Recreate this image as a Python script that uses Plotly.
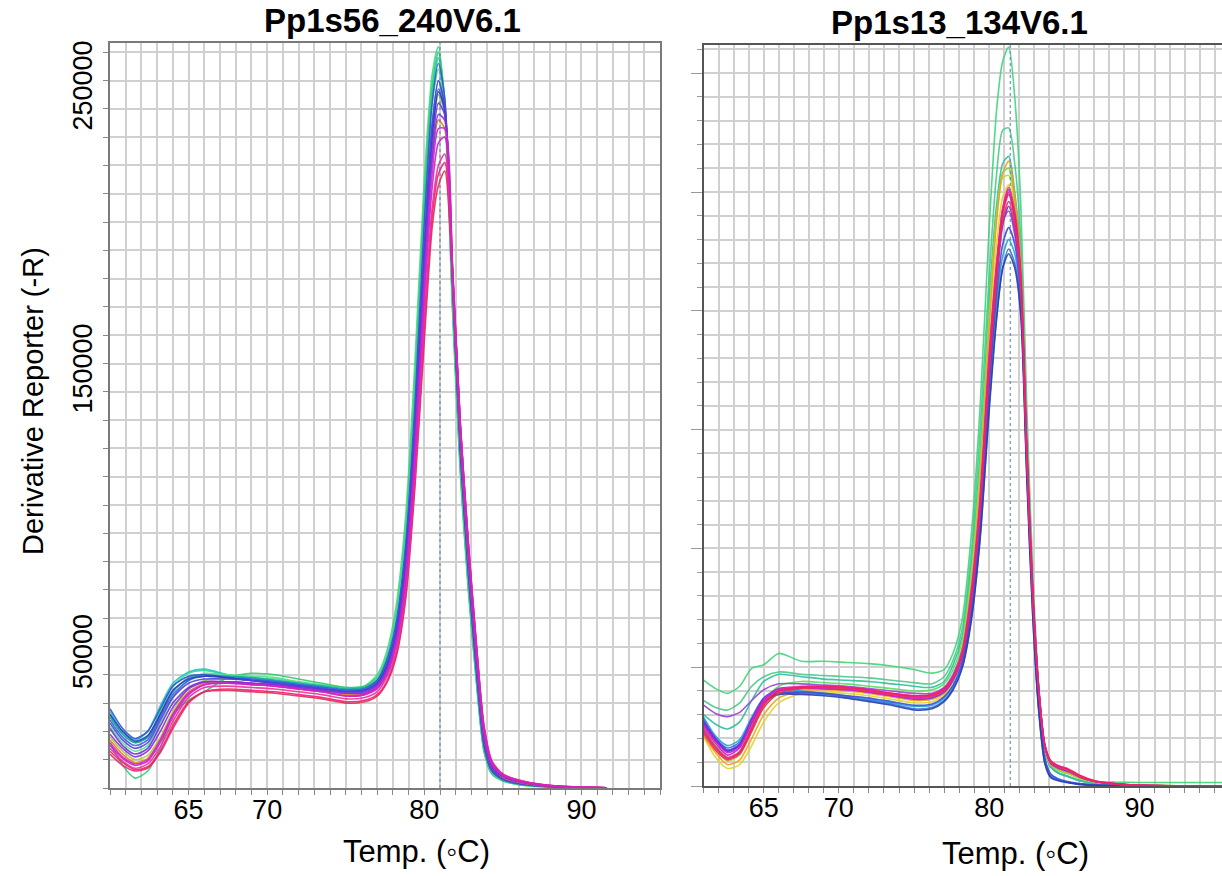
import plotly.graph_objects as go

# melt temperatures (deg C) sampled for each panel
left_temp = [60, 60.8, 61.6, 62.4, 63.2, 64, 65, 66, 67.5, 69, 70.5, 72, 73.5, 75, 76.2, 77, 77.6, 78.2,
             78.8, 79.4, 80, 80.5, 80.9, 81.3, 81.8, 82.3, 82.8, 83.3, 83.8, 84.3, 85, 86, 87.5, 89.5, 91.6]
right_temp = [61, 61.8, 62.6, 63.4, 64.2, 65, 66, 67.5, 69, 70.5, 72, 73.5, 75, 76.2, 77, 77.6, 78.2, 78.8,
              79.4, 80, 80.5, 80.9, 81.3, 81.7, 82.1, 82.5, 82.9, 83.3, 83.7, 84.1, 84.6, 85.3, 86, 87,
              88.5, 90, 92.5, 95.5]

# derivative reporter (-R), thousands, one list per well
left_01 = [26, 19, 16, 18, 27, 36, 40.5, 41.5, 40, 39, 38.5, 37.5, 36.5, 35.5, 36, 40, 48, 64, 95, 150, 215, 252, 262, 240, 168, 110, 70, 38, 13, 5, 2.5, 1.2, 0.5, 0.2, 0.1]
left_02 = [27, 20, 17, 20, 29, 37, 41, 42, 40, 38.5, 38, 37, 36, 35, 35.5, 38.5, 46, 60, 88, 140, 205, 245, 258, 242, 172, 113, 72, 40, 14, 5.5, 2.8, 1.4, 0.6, 0.2, 0.1]
left_03 = [16, 8, 3.5, 6, 14, 26, 31, 34, 39, 40.5, 40, 38.5, 37, 35.5, 36, 39, 46, 61, 90, 142, 208, 248, 260, 243, 170, 112, 71, 39, 13, 5, 2.5, 1.2, 0.5, 0.2, 0.1]
left_04 = [22, 16, 13, 15, 23, 32, 38, 40.5, 40, 39.5, 39, 37.5, 36, 35, 35.5, 38.5, 45.5, 60, 88, 138, 202, 242, 254, 241, 172, 113, 72, 40, 14, 5.5, 2.8, 1.4, 0.6, 0.2, 0.1]
left_05 = [25, 19, 16, 18, 26, 34, 39, 40, 39.5, 39, 38, 37, 36, 35, 35.5, 38, 44, 57, 83, 130, 192, 235, 250, 240, 176, 116, 75, 42, 15, 6, 3, 1.5, 0.6, 0.2, 0.1]
left_06 = [18, 13, 10, 11.5, 18, 27, 35, 38, 38.5, 38, 37, 36, 35, 34, 34.5, 36.5, 42, 54, 78, 125, 186, 230, 245, 238, 178, 120, 78, 44, 16, 6.5, 3.2, 1.7, 0.7, 0.2, 0.1]
left_07 = [28, 21, 17.5, 20, 28, 36, 39.5, 40, 39, 38, 37.5, 36.5, 35.5, 34.5, 35, 38, 45, 58, 85, 135, 200, 242, 256, 244, 178, 118, 76, 42, 15, 6, 3, 1.5, 0.6, 0.2, 0.1]
left_08 = [24, 18, 15, 17, 25, 33, 38, 39.5, 39, 38.5, 37.5, 36.5, 35.5, 34.5, 35, 37.5, 43, 56, 82, 128, 190, 232, 247, 239, 178, 120, 78, 44, 16, 6.5, 3.2, 1.8, 0.7, 0.2, 0.1]
left_09 = [26, 20, 16.5, 18.5, 26, 34.5, 38.5, 39.5, 39, 38, 37, 36, 35, 34, 34.5, 37, 43, 55, 80, 126, 188, 230, 246, 240, 180, 121, 79, 45, 17, 7, 3.5, 2, 0.8, 0.3, 0.1]
left_10 = [23, 17, 14, 16, 24, 32, 37, 38.5, 38.5, 38, 37, 36, 35, 34, 34.5, 37, 42.5, 55, 80, 127, 190, 234, 250, 241, 179, 120, 78, 44, 16, 6.5, 3.2, 1.7, 0.7, 0.2, 0.1]
left_11 = [17, 12, 9, 10.5, 17, 26, 34, 37, 37.5, 37, 36, 35, 34, 33, 33.5, 35.5, 41, 52, 75, 120, 180, 222, 236, 233, 180, 123, 81, 47, 18, 7.5, 3.8, 2, 0.8, 0.3, 0.1]
left_12 = [21, 15, 12, 14, 22, 30, 35.5, 37.5, 37.5, 37, 36.5, 35.5, 34.5, 33.5, 34, 36.5, 42, 54, 78, 124, 185, 226, 242, 238, 182, 124, 82, 47, 18, 7.5, 4, 2.2, 0.9, 0.3, 0.1]
left_13 = [19, 14, 11, 13, 20, 28.5, 35, 37.5, 37.5, 37, 36.5, 35.5, 34.5, 33.5, 33.5, 36, 41, 52, 75, 120, 180, 222, 238, 236, 183, 126, 84, 49, 19, 8, 4.2, 2.4, 1, 0.3, 0.1]
left_14 = [13, 9, 6.5, 7.5, 13, 22, 30.5, 34, 34.5, 34, 33.5, 32.5, 31.5, 30, 30.5, 32.5, 37, 46, 66, 106, 158, 198, 213, 218, 180, 127, 86, 51, 21, 9, 4.5, 2.5, 1, 0.3, 0.1]
left_15 = [12, 8, 6, 7, 12.5, 21, 30, 34, 35, 34.5, 34, 33, 32, 30.5, 31, 33, 37.5, 47, 67, 108, 162, 202, 217, 221, 181, 128, 87, 52, 22, 9.5, 5, 2.8, 1.2, 0.4, 0.1]
left_16 = [14, 9.5, 7, 8.5, 14.5, 23.5, 32, 35.5, 36, 35.5, 35, 34, 33, 31.5, 32, 34, 39, 48, 69, 110, 165, 205, 220, 224, 182, 128, 87, 52, 22, 9.5, 4.8, 2.8, 1.2, 0.4, 0.1]
left_17 = [16, 11, 8.5, 10, 17, 26, 33.5, 36.5, 37, 36.5, 36, 35, 34, 32.5, 33, 35.5, 40.5, 51, 73, 117, 176, 217, 233, 233, 184, 127, 85, 50, 20, 8.5, 4.5, 2.6, 1.1, 0.3, 0.1]
left_18 = [15, 10.5, 8, 9.5, 16, 25, 33, 36.5, 37, 36.5, 36, 35, 34, 32.5, 33, 35, 40, 50, 72, 115, 172, 212, 228, 230, 184, 128, 86, 51, 21, 9, 4.5, 2.6, 1.1, 0.3, 0.1]

right_01 = [44.6, 41, 39, 42, 49.5, 51, 55.8, 52.5, 52.5, 52, 51.5, 50.5, 49, 47.5, 49, 56, 70, 105, 160, 235, 285, 305, 311, 290, 245, 160, 90, 42, 15, 8, 5.5, 4, 2.5, 1.8, 1.6, 1.5, 1.5, 1.5]
right_02 = [36, 33, 32, 35, 42, 46, 48, 47, 46.5, 46, 45.5, 44.5, 43.5, 43, 46, 53, 66, 98, 150, 215, 258, 276, 277, 262, 230, 150, 85, 40, 15, 8, 5.5, 3.8, 2.2, 1, 0.4, 0.2, 0.1, 0]
right_03 = [30, 26, 24, 27, 36, 44, 47, 46, 45, 44.5, 44, 43, 42, 41.5, 44, 51, 63, 93, 140, 205, 245, 262, 265, 250, 222, 145, 82, 40, 15, 8, 5.5, 3.8, 2.2, 1, 0.4, 0.2, 0.1, 0]
right_04 = [24, 17, 12, 14.5, 25, 35, 42, 44, 43.5, 43, 42, 41, 40, 40.5, 43, 49, 61, 90, 136, 200, 242, 258, 260, 246, 218, 144, 82, 40, 16, 9, 6.5, 5, 3.2, 1.6, 0.6, 0.2, 0.1, 0]
right_05 = [23, 15.5, 10.5, 13, 23, 33, 39, 41, 41, 40.5, 39.5, 38, 36.5, 37, 40, 46.5, 59, 87, 132, 196, 240, 256, 257, 244, 216, 143, 81, 40, 16, 9, 7, 5.5, 3.5, 1.8, 0.7, 0.3, 0.1, 0]
right_06 = [20.8, 12, 7.4, 9, 17, 27, 35, 39, 39.5, 39, 38, 36.5, 35, 35.5, 38, 44, 55, 80, 122, 183, 228, 248, 253, 240, 214, 142, 81, 40, 16, 9, 7, 5.5, 3.5, 1.8, 0.7, 0.3, 0.1, 0]
right_07 = [21, 14, 9, 11, 20, 30, 37, 40, 40.5, 40, 39, 37.5, 36, 36.5, 39, 45, 57, 84, 128, 192, 238, 258, 263, 248, 220, 145, 82, 40, 16, 9, 7, 5.5, 3.5, 1.8, 0.7, 0.3, 0.1, 0]
right_08 = [29, 21, 17, 19.5, 29, 37, 40, 40, 39, 38, 36.5, 35, 33.5, 34, 37, 42, 51, 72, 108, 165, 203, 223, 230, 224, 203, 134, 74, 33, 11, 4.5, 2.8, 1.6, 0.8, 0.4, 0.2, 0.1, 0, 0]
right_09 = [28, 20, 16, 18.5, 28, 36, 39, 39, 38.5, 37.5, 36, 34.5, 32.5, 33, 36, 41, 50, 70, 105, 160, 198, 218, 226, 220, 200, 132, 72, 32, 10, 4, 2.5, 1.5, 0.8, 0.4, 0.2, 0.1, 0, 0]
right_10 = [26, 19, 14.5, 17, 26.5, 35, 39, 39.5, 39, 38, 37, 35.5, 34, 34.5, 37.5, 42.5, 52, 73, 110, 168, 207, 228, 235, 228, 206, 136, 76, 35, 12, 5, 3, 1.8, 1, 0.5, 0.2, 0.1, 0, 0]
right_11 = [27, 19.5, 15, 17.5, 27, 35.5, 38.5, 38.5, 38, 37, 35.5, 34, 32, 32.5, 35.5, 40.5, 49.5, 69, 104, 158, 197, 218, 224, 218, 198, 130, 71, 31, 9.5, 3.5, 2.2, 1.3, 0.7, 0.3, 0.1, 0, 0, 0]
right_12 = [34, 30.5, 29.2, 31, 36, 40.5, 43, 43, 42.5, 42, 41, 40, 39, 39, 41.5, 47, 57, 82, 122, 182, 220, 238, 242, 232, 208, 140, 80, 40, 17, 10, 8, 6.5, 4, 2, 0.8, 0.3, 0.1, 0]
right_13 = [27, 20, 15, 17.5, 28, 37, 41, 41.5, 41, 40.5, 39.5, 38, 36.5, 37, 39.5, 44.5, 54, 76, 114, 172, 212, 236, 244, 234, 210, 139, 79, 39, 16.5, 9.5, 7.5, 6, 3.8, 1.9, 0.8, 0.3, 0.1, 0]
right_14 = [26, 19, 14, 16.5, 27, 36, 40.5, 41.5, 41.5, 41, 40, 38.5, 37.5, 38, 40.5, 45.5, 55, 79, 119, 179, 219, 243, 251, 240, 214, 142, 81, 40.5, 17, 10, 8, 6.5, 4, 2, 0.8, 0.3, 0.1, 0]
right_15 = [25, 18, 13, 16, 27, 36, 40, 41, 41, 40.5, 39.5, 38, 37, 37.5, 40, 45, 55, 78, 118, 178, 218, 242, 250, 238, 212, 140, 80, 40, 17, 10, 8, 6.5, 4, 2, 0.8, 0.3, 0.1, 0]
right_16 = [22, 15, 11, 13.5, 23, 33, 39, 41, 41.5, 41, 40, 38.5, 37.5, 38, 40.5, 45.5, 55, 78, 117, 175, 214, 238, 246, 236, 211, 140, 80, 40, 17, 10, 8, 6.5, 4, 2, 0.8, 0.3, 0.1, 0]
right_17 = [24, 16.5, 12, 14.5, 25, 35, 40.5, 42, 42, 41.5, 40.5, 39, 38, 38.5, 41, 46, 56, 80, 120, 180, 220, 243, 252, 242, 216, 143, 82, 41, 17.5, 10.5, 8.5, 7, 4.5, 2.2, 0.9, 0.3, 0.1, 0]
right_18 = [23, 16, 11.5, 14, 24, 34, 40, 41.5, 42, 41.5, 40.5, 39, 38, 38.5, 41, 46, 55.5, 79, 118, 177, 217, 241, 249, 240, 215, 143, 82, 41, 17.5, 10.5, 8.5, 7, 4.5, 2.2, 0.9, 0.3, 0.1, 0]

left_series = [left_01, left_02, left_03, left_04, left_05, left_06, left_07, left_08, left_09,
               left_10, left_11, left_12, left_13, left_14, left_15, left_16, left_17, left_18]
right_series = [right_01, right_02, right_03, right_04, right_05, right_06, right_07, right_08, right_09,
                right_10, right_11, right_12, right_13, right_14, right_15, right_16, right_17, right_18]

left_colors = ['#3ddc84', '#22c4d0', '#2ecc71', '#55e08a', '#1aa6a0', '#a4cf2e', '#2f55d4', '#4060e8', '#2a3fb8',
               '#5540e0', '#f07a22', '#6a35d8', '#8b2fe0', '#e3304a', '#f0207c', '#e8349a', '#c42ad8', '#d61fc4']
right_colors = ['#3fd67a', '#4cc98a', '#2fbf9f', '#56e05a', '#b5d93a', '#e6d22a', '#f2a020', '#21a8d8', '#2f6fe0',
                '#3b4fd8', '#2d3fa8', '#9b45d6', '#7b2fe0', '#b62bd6', '#d81fc9', '#e43a4e', '#ee2d8c', '#f01d6e']

titles = ['Pp1s56_240V6.1', 'Pp1s13_134V6.1']
x_labels = [65, 70, 80, 90]
y_labels = [50000, 150000, 250000]
tm_left = 81.0
tm_right = 81.4

font = 'Liberation Sans, Arial, sans-serif'
grid = '#d0d0d0'

fig = go.Figure()
for vals, col in zip(left_series, left_colors):
    fig.add_trace(go.Scatter(x=left_temp, y=[v * 1000 for v in vals], mode='lines',
                             line=dict(color=col, width=1.6, shape='spline', smoothing=0.7),
                             opacity=0.9, xaxis='x', yaxis='y'))
for vals, col in zip(right_series, right_colors):
    fig.add_trace(go.Scatter(x=right_temp, y=[v * 1000 for v in vals], mode='lines',
                             line=dict(color=col, width=1.6, shape='spline', smoothing=0.7),
                             opacity=0.9, xaxis='x2', yaxis='y2'))

lx_ticks = list(range(60, 96))
rx_ticks = list(range(61, 96))
ly_ticks = list(range(0, 260001, 10000))

fig.update_layout(
    width=1222, height=876,
    margin=dict(l=0, r=0, t=0, b=0),
    paper_bgcolor='white', plot_bgcolor='white',
    showlegend=False,
    font=dict(family=font, color='black', size=27),
    xaxis=dict(domain=[110 / 1222, 660 / 1222], range=[60, 95], anchor='y', automargin=False,
               tickmode='array', tickvals=lx_ticks,
               ticktext=[str(t) if t in x_labels else '' for t in lx_ticks], ticklabelstandoff=-8,
               ticks='outside', ticklen=5, tickcolor='#888', showgrid=True, gridcolor=grid, gridwidth=1.5,
               showline=True, linecolor='#7a7a7a', linewidth=2, mirror=True, zeroline=False),
    yaxis=dict(domain=[1 - 788 / 876, 1 - 43 / 876], range=[0, 263250], anchor='x', automargin=False,
               tickmode='array', tickvals=ly_ticks,
               ticktext=[str(t) if t in y_labels else '' for t in ly_ticks], tickangle=-90,
               ticklabelshift=9,
               ticks='outside', ticklen=5, tickcolor='#888', showgrid=True, gridcolor=grid, gridwidth=1.5,
               showline=True, linecolor='#7a7a7a', linewidth=2, mirror=True, zeroline=False),
    xaxis2=dict(domain=[703.6 / 1222, 1.0], range=[61, 95.49], anchor='y2', automargin=False,
                tickmode='array', tickvals=rx_ticks,
                ticktext=[str(t) if t in x_labels else '' for t in rx_ticks], ticklabelstandoff=-8,
                ticks='outside', ticklen=5, tickcolor='#888', showgrid=True, gridcolor=grid, gridwidth=1.5,
                showline=True, linecolor='#555', linewidth=2, mirror=True, zeroline=False),
    yaxis2=dict(domain=[1 - 786 / 876, 1 - 45 / 876], range=[0, 311870], anchor='x2', automargin=False,
                tickmode='linear', tick0=0, dtick=50000, showticklabels=False,
                ticks='outside', ticklen=11, tickcolor='#999', showgrid=True, gridcolor=grid, gridwidth=1.5,
                minor=dict(dtick=10000, tick0=0, ticks='outside', ticklen=5, tickcolor='#999',
                           showgrid=True, gridcolor=grid, gridwidth=1.5),
                showline=True, linecolor='#555', linewidth=2, mirror=False, zeroline=False),
)

# Tm marker lines
fig.add_shape(type='line', xref='x', yref='y domain', x0=tm_left, x1=tm_left, y0=0, y1=1,
              line=dict(color='#4f7fb0', width=1, dash='dot'))
fig.add_shape(type='line', xref='x2', yref='y2 domain', x0=tm_right, x1=tm_right, y0=0, y1=1,
              line=dict(color='#4f7fb0', width=1, dash='dot'))

# titles and axis titles
fig.add_annotation(text='<b>' + titles[0] + '</b>', x=392 / 1222, y=1 - 21 / 876, xref='paper', yref='paper',
                   showarrow=False, xanchor='center', yanchor='middle', font=dict(size=33))
fig.add_annotation(text='<b>' + titles[1] + '</b>', x=960 / 1222, y=1 - 23 / 876, xref='paper', yref='paper',
                   showarrow=False, xanchor='center', yanchor='middle', font=dict(size=33))
fig.add_annotation(text='Temp. (◦C)', x=417 / 1222, y=1 - 851 / 876, xref='paper', yref='paper',
                   showarrow=False, xanchor='center', yanchor='middle', font=dict(size=31))
fig.add_annotation(text='Temp. (◦C)', x=1015 / 1222, y=1 - 853 / 876, xref='paper', yref='paper',
                   showarrow=False, xanchor='center', yanchor='middle', font=dict(size=31))
fig.add_annotation(text='Derivative Reporter (-R)', x=33 / 1222, y=1 - 401 / 876, xref='paper', yref='paper',
                   showarrow=False, xanchor='center', yanchor='middle', textangle=-90, font=dict(size=29))

fig.write_html('out.html', config={'displayModeBar': False},
               post_script="document.body.style.margin='0';")
